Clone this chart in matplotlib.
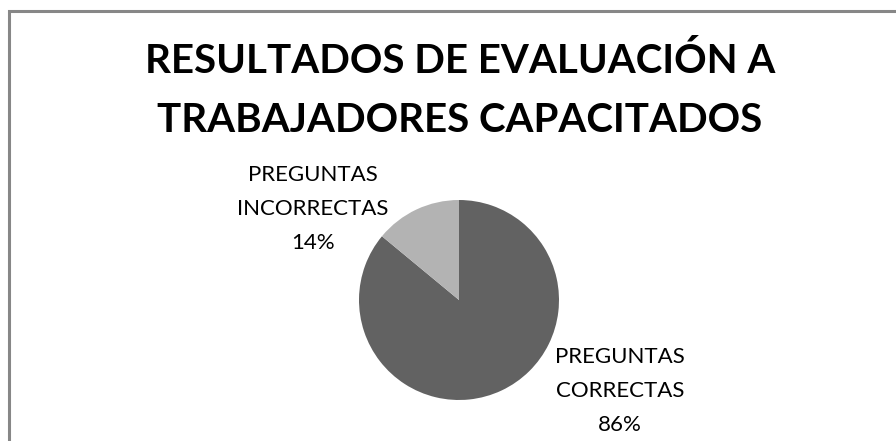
import matplotlib
matplotlib.use('Agg')
import matplotlib.pyplot as plt

# evaluation results
categories = ['PREGUNTAS\nCORRECTAS', 'PREGUNTAS\nINCORRECTAS']
values = [86, 14]
colors = ['#626262', '#b3b3b3']
title = 'RESULTADOS DE EVALUACIÓN A\nTRABAJADORES CAPACITADOS'

W, H = 896, 441
fig = plt.figure(figsize=(W / 100, H / 100), dpi=100)
ax = fig.add_axes([0, 0, 1, 1])

# pie drawn in pixel-like data units, y going up
cx, cy, r = 459, H - 300, 100
wedges, _ = ax.pie(values, colors=colors, startangle=90, counterclock=False,
                   center=(cx, cy), radius=r, frame=True,
                   wedgeprops=dict(linewidth=0))

ax.set_xlim(0, W)
ax.set_ylim(0, H)
ax.set_aspect('equal')
ax.axis('off')

# chart area border
ax.plot([9, 9, W + 5], [-5, H - 11, H - 11], color='#878787', lw=2.2,
        solid_joinstyle='miter', clip_on=False)

ax.text(460, H - 90.5, title, ha='center', va='center', fontsize=29,
        fontweight='bold', family='Lato', linespacing=1.72)

# data labels
label_pos = [(620, H - 391), (313, H - 209)]
total = sum(values)
for name, v, (x, y) in zip(categories, values, label_pos):
    ax.text(x, y, f'{name}\n{round(100 * v / total)}%', ha='center',
            va='center', fontsize=16, family='Lato', linespacing=1.87)

fig.savefig('out.png', dpi=100)
